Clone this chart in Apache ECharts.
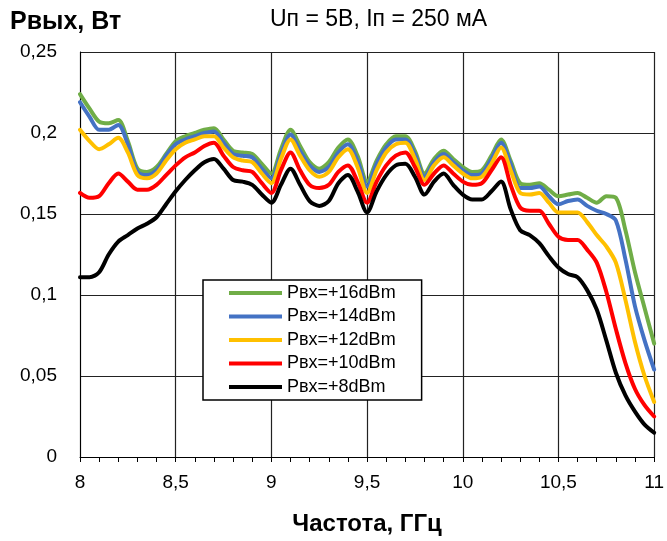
<!DOCTYPE html>
<html>
<head>
<meta charset="utf-8">
<script src="https://cdn.jsdelivr.net/npm/echarts@6/dist/echarts.min.js"></script>
<style>html,body{margin:0;padding:0;background:#fff}#c{width:667px;height:541px}</style>
</head>
<body>
<div id="c"></div>
<script>
var freq = [8.00,8.05,8.10,8.15,8.20,8.25,8.30,8.35,8.40,8.45,8.50,8.55,8.60,8.65,8.70,8.75,8.80,8.85,8.90,8.95,
            9.00,9.05,9.10,9.15,9.20,9.25,9.30,9.35,9.40,9.45,9.50,9.55,9.60,9.65,9.70,9.75,9.80,9.85,9.90,9.95,
            10.00,10.05,10.10,10.15,10.20,10.25,10.30,10.35,10.40,10.45,10.50,10.55,10.60,10.65,10.70,10.75,10.80,10.85,10.90,10.95,11.00];
var p16 = [0.224,0.215,0.207,0.206,0.208,0.195,0.178,0.176,0.179,0.187,0.195,0.198,0.200,0.202,0.203,0.196,0.189,0.188,0.187,0.181,
           0.175,0.190,0.202,0.192,0.182,0.178,0.182,0.191,0.196,0.186,0.170,0.183,0.193,0.198,0.198,0.189,0.175,0.184,0.189,0.184,
           0.179,0.176,0.177,0.186,0.196,0.183,0.169,0.168,0.169,0.165,0.161,0.162,0.163,0.160,0.157,0.161,0.160,0.140,0.114,0.092,0.070];
var p14 = [0.219,0.210,0.202,0.202,0.205,0.193,0.176,0.174,0.177,0.186,0.193,0.196,0.198,0.200,0.201,0.194,0.187,0.186,0.185,0.178,
           0.172,0.187,0.199,0.189,0.180,0.176,0.179,0.188,0.193,0.183,0.167,0.181,0.191,0.196,0.196,0.187,0.173,0.182,0.187,0.182,
           0.177,0.174,0.175,0.184,0.194,0.181,0.166,0.166,0.167,0.161,0.156,0.158,0.159,0.155,0.152,0.150,0.146,0.122,0.093,0.072,0.054];
var p12 = [0.202,0.195,0.190,0.193,0.197,0.188,0.174,0.172,0.175,0.183,0.190,0.194,0.196,0.198,0.198,0.191,0.185,0.183,0.182,0.175,
           0.169,0.184,0.196,0.186,0.177,0.173,0.176,0.185,0.190,0.179,0.163,0.177,0.188,0.193,0.194,0.184,0.171,0.180,0.185,0.180,
           0.175,0.172,0.173,0.181,0.191,0.177,0.163,0.162,0.163,0.157,0.151,0.151,0.151,0.145,0.137,0.130,0.120,0.097,0.071,0.050,0.034];
var p10 = [0.163,0.160,0.161,0.169,0.175,0.170,0.165,0.165,0.168,0.174,0.180,0.185,0.188,0.192,0.194,0.186,0.179,0.177,0.176,0.169,
           0.163,0.177,0.188,0.177,0.168,0.166,0.168,0.176,0.180,0.170,0.157,0.170,0.180,0.186,0.188,0.179,0.168,0.175,0.180,0.175,
           0.170,0.168,0.169,0.177,0.185,0.168,0.154,0.152,0.152,0.144,0.136,0.134,0.134,0.128,0.120,0.102,0.079,0.058,0.042,0.032,0.025];
var p8  = [0.111,0.111,0.114,0.125,0.133,0.137,0.141,0.144,0.148,0.156,0.164,0.171,0.177,0.182,0.184,0.178,0.171,0.170,0.168,0.162,
           0.157,0.168,0.178,0.168,0.158,0.155,0.158,0.169,0.174,0.164,0.151,0.164,0.174,0.180,0.181,0.173,0.162,0.170,0.175,0.168,
           0.162,0.159,0.159,0.164,0.170,0.153,0.140,0.137,0.132,0.124,0.117,0.113,0.111,0.103,0.091,0.072,0.052,0.038,0.028,0.020,0.015];
var seriesNames = ['Pвх=+16dBm','Pвх=+14dBm','Pвх=+12dBm','Pвх=+10dBm','Pвх=+8dBm'];
var seriesData = [p16,p14,p12,p10,p8];
var colors = ['#70AD47','#4472C4','#FFC000','#FF0000','#000000'];
var xTicks = [8,8.5,9,9.5,10,10.5,11];

var FONT = "'Liberation Sans',Arial,sans-serif";
function comma(v){ return String(v).replace('.', ','); }

var chart = echarts.init(document.getElementById('c'), null, {renderer:'canvas'});
var series = seriesNames.map(function(n,i){
  return {
    name: n, type: 'line', smooth: 0.3, showSymbol: false, symbol: 'none',
    data: freq.map(function(f,j){ return [f, seriesData[i][j]]; }),
    lineStyle: {width: 4, color: colors[i], join: 'round', cap: 'round'}, itemStyle: {color: colors[i]},
    z: 2 + i
  };
});
chart.setOption({
  animation: false,
  backgroundColor: '#fff',
  title: [
    {text: 'Рвых, Вт', left: 10, top: 10, padding: 0, textStyle: {fontFamily: FONT, fontSize: 25, fontWeight: 'bold', color: '#000'}},
    {text: 'Uп = 5В, Iп = 250 мА', left: 270, top: 8, padding: 0, textStyle: {fontFamily: FONT, fontSize: 23, fontWeight: 'normal', color: '#000'}}
  ],
  grid: {left: 80, top: 52, right: 10, bottom: 84, containLabel: false},
  legend: {
    orient: 'vertical', left: 203, top: 280,
    data: seriesNames.map(function(n){ return {name: n, icon: 'rect'}; }),
    itemWidth: 53, itemHeight: 4, itemGap: 5.5,
    padding: [4, 26, 4, 26],
    borderColor: '#000', borderWidth: 1.5, backgroundColor: '#fff',
    textStyle: {fontFamily: FONT, fontSize: 18, color: '#000', lineHeight: 18},
    z: 10
  },
  xAxis: {
    type: 'value', min: 8, max: 11, interval: 0.5,
    name: 'Частота, ГГц', nameLocation: 'middle', nameGap: 55,
    nameTextStyle: {fontFamily: FONT, fontSize: 24, fontWeight: 'bold', color: '#000'},
    axisLine: {show: true, lineStyle: {color: '#000', width: 1}},
    axisTick: {show: true, length: 5, lineStyle: {color: '#000'}},
    minorTick: {show: true, splitNumber: 5, length: 5, lineStyle: {color: '#000'}},
    axisLabel: {margin: 16, fontFamily: FONT, fontSize: 19, color: '#000', formatter: comma,
      customValues: xTicks},
    splitLine: {show: true, lineStyle: {color: '#222', width: 1.2}}
  },
  yAxis: {
    type: 'value', min: 0, max: 0.25, interval: 0.05,
    axisLine: {show: true, lineStyle: {color: '#000', width: 1}},
    axisTick: {show: false},
    axisLabel: {margin: 23, fontFamily: FONT, fontSize: 19, color: '#000',
      formatter: function(v){ return comma(+v.toFixed(2)); }},
    splitLine: {show: true, lineStyle: {color: '#222', width: 1.2}}
  },
  series: series
});
</script>
</body>
</html>
